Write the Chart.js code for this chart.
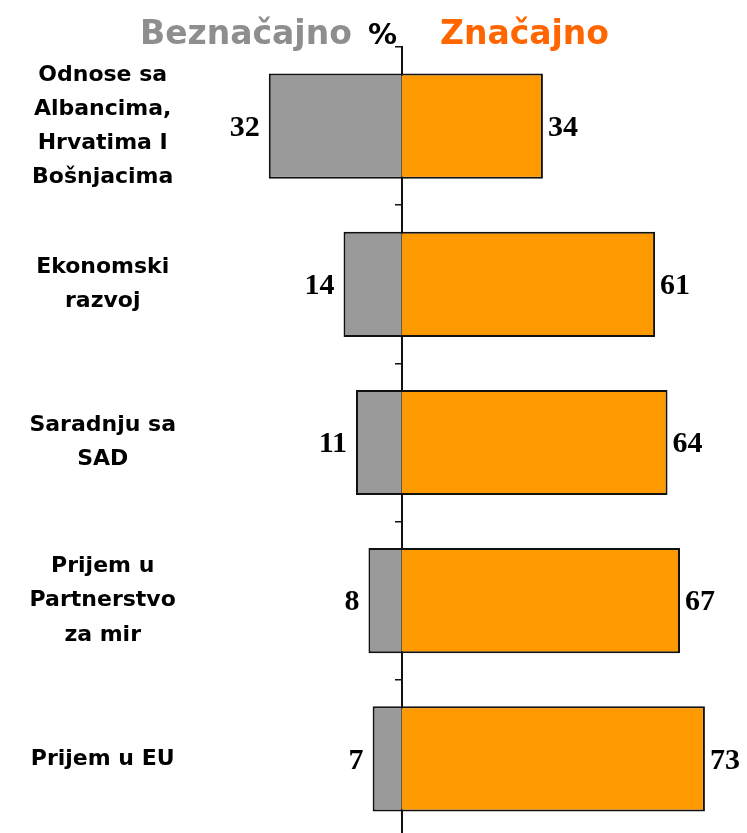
<!DOCTYPE html>
<html><head><meta charset="utf-8">
<script src="https://cdn.jsdelivr.net/npm/chart.js@4/dist/chart.umd.min.js"></script>
<style>
html,body{margin:0;padding:0;background:#fff;overflow:hidden;width:747px;height:833px}
#wrap{position:relative;width:747px;height:840px}
canvas{position:absolute;left:0;top:0}
.t{position:absolute;top:16px;font-family:"DejaVu Sans";font-weight:bold;font-size:33px;white-space:nowrap;line-height:1}
</style></head><body>
<div id="wrap">
<canvas id="c" width="747" height="840"></canvas>
<span class="t" style="left:140px;color:#8e8e8e">Beznačajno</span>
<span class="t" style="left:368px;top:20px;font-size:29px;color:#000">%</span>
<span class="t" style="left:440px;color:#ff6600">Značajno</span>
</div>
<script>
const categories = [
  ["Odnose sa", "Albancima,", "Hrvatima I", "Bošnjacima"],
  ["Ekonomski", "razvoj"],
  ["Saradnju sa", "SAD"],
  ["Prijem u", "Partnerstvo", "za mir"],
  ["Prijem u EU"]
];
const seriesNames = ["Beznačajno", "Značajno"];
const beznacajno = [32, 14, 11, 8, 7];
const znacajno = [34, 61, 64, 67, 73];

const valueLabels = {
  id: 'valueLabels',
  afterDatasetsDraw(chart) {
    const ctx = chart.ctx;
    ctx.save();
    ctx.font = 'bold 30px "Liberation Serif"';
    ctx.fillStyle = '#000';
    ctx.textBaseline = 'middle';
    chart.data.datasets.forEach((ds, i) => {
      const meta = chart.getDatasetMeta(i);
      meta.data.forEach((bar, j) => {
        const v = Math.abs(ds.data[j]);
        if (i === 0) { ctx.textAlign = 'right'; ctx.fillText(String(v), bar.x - 9, bar.y + 2); }
        else { ctx.textAlign = 'left'; ctx.fillText(String(v), bar.x + 5, bar.y + 2); }
      });
    });
    ctx.restore();
  }
};

new Chart(document.getElementById('c'), {
  type: 'bar',
  data: {
    labels: categories,
    datasets: [
      { label: seriesNames[0], data: beznacajno.map(v => -v), backgroundColor: '#9a9a9a', borderColor: '#111', borderWidth: 2 },
      { label: seriesNames[1], data: znacajno, backgroundColor: '#ff9900', borderColor: '#111', borderWidth: 2 }
    ]
  },
  options: {
    indexAxis: 'y',
    responsive: false,
    animation: false,
    events: [],
    categoryPercentage: 1,
    barPercentage: 0.665,
    layout: { padding: { top: 47, bottom: 2, left: 0, right: 13 } },
    plugins: { legend: { display: false }, tooltip: { enabled: false }, title: { display: false } },
    scales: {
      x: { display: false, stacked: true, min: -50, max: 80 },
      y: {
        stacked: true,
        position: 'left',
        grid: { display: false, drawTicks: false },
        border: { display: false },
        afterFit: s => { s.width = 194; s.paddingTop = 0; s.paddingBottom = 0; },
        ticks: {
          crossAlign: 'center',
          padding: 18,
          color: '#000',
          font: { family: '"DejaVu Sans"', weight: 'bold', size: 22, lineHeight: 1.55 }
        }
      },
      y2: {
        type: 'category',
        labels: categories,
        offset: true,
        position: { x: 0 },
        grid: { display: true, offset: true, drawOnChartArea: false, drawTicks: true, tickLength: 6, color: '#111', lineWidth: 1.5 },
        border: { display: true, color: '#111', width: 2 },
        ticks: { display: false }
      }
    }
  },
  plugins: [valueLabels]
});
</script>
</body></html>
